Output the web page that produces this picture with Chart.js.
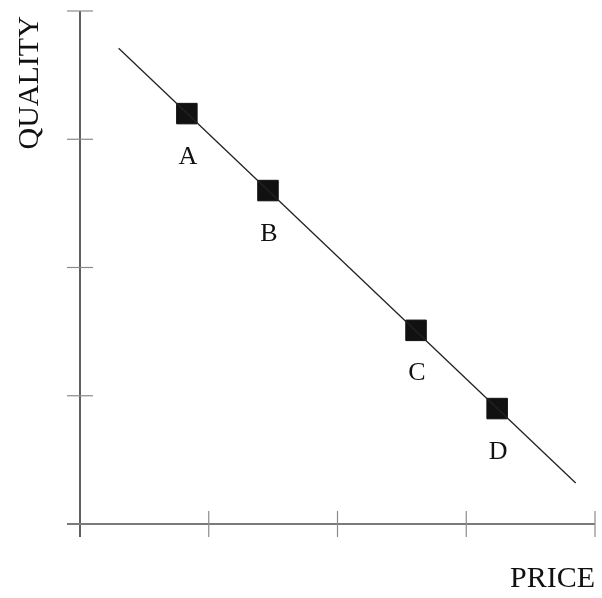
<!DOCTYPE html>
<html>
<head>
<meta charset="utf-8">
<script src="https://cdn.jsdelivr.net/npm/chart.js@4/dist/chart.umd.min.js"></script>
<style>
html,body{margin:0;padding:0;background:#fff;}
#wrap{width:602px;height:598px;position:relative;}
</style>
</head>
<body>
<div id="wrap"><canvas id="c" width="602" height="598"></canvas></div>
<script>
const pointLabels = ['A', 'B', 'C', 'D'];
const priceValues = [0.83, 1.46, 2.61, 3.24];
const qualityValues = [3.20, 2.60, 1.51, 0.90];
const lineX = [0.30, 3.85];
const lineY = [3.71, 0.32];
const xTicks = [0, 1, 2, 3, 4];
const yTicks = [0, 1, 2, 3, 4];
const xTitle = 'PRICE';
const yTitle = 'QUALITY';

const serif = '"Liberation Serif", "DejaVu Serif", serif';

const axesPlugin = {
  id: 'axesPlugin',
  afterDatasetsDraw(chart) {
    const ctx = chart.ctx;
    const xs = chart.scales.x, ys = chart.scales.y;
    const x0 = xs.getPixelForValue(0), y0 = ys.getPixelForValue(0);
    const tl = 13;
    ctx.save();
    // y axis
    ctx.strokeStyle = '#2a2a2a';
    ctx.lineWidth = 1.5;
    ctx.beginPath();
    ctx.moveTo(x0, ys.getPixelForValue(yTicks[yTicks.length - 1]));
    ctx.lineTo(x0, y0 + tl);
    ctx.stroke();
    // x axis
    ctx.strokeStyle = '#7a7a7a';
    ctx.lineWidth = 2;
    ctx.beginPath();
    ctx.moveTo(x0 - tl, y0);
    ctx.lineTo(xs.getPixelForValue(xTicks[xTicks.length - 1]), y0);
    ctx.stroke();
    // ticks
    ctx.strokeStyle = '#8a8a8a';
    ctx.lineWidth = 1.2;
    xTicks.forEach(v => {
      if (v === 0) return;
      const px = xs.getPixelForValue(v);
      ctx.beginPath(); ctx.moveTo(px, y0 - tl); ctx.lineTo(px, y0 + tl); ctx.stroke();
    });
    yTicks.forEach(v => {
      if (v === 0) return;
      const py = ys.getPixelForValue(v);
      ctx.beginPath(); ctx.moveTo(x0 - tl, py); ctx.lineTo(x0 + tl, py); ctx.stroke();
    });
    // point labels
    ctx.fillStyle = '#111';
    ctx.font = '26px ' + serif;
    ctx.textAlign = 'center';
    ctx.textBaseline = 'alphabetic';
    const meta = chart.getDatasetMeta(1);
    meta.data.forEach((pt, i) => {
      ctx.fillText(pointLabels[i], pt.x + 1, pt.y + 50);
    });
    // axis titles
    ctx.font = '30px ' + serif;
    ctx.textAlign = 'right';
    ctx.fillText(xTitle, xs.getPixelForValue(xTicks[xTicks.length - 1]), y0 + 63);
    ctx.save();
    ctx.translate(38, ys.getPixelForValue(3.44));
    ctx.rotate(-Math.PI / 2);
    ctx.textAlign = 'center';
    ctx.fillText(yTitle, 0, 0);
    ctx.restore();
    ctx.restore();
  }
};

new Chart(document.getElementById('c'), {
  type: 'scatter',
  data: {
    datasets: [
      {
        data: lineX.map((x, i) => ({ x: x, y: lineY[i] })),
        showLine: true,
        borderColor: '#222',
        borderWidth: 1.3,
        pointRadius: 0,
        clip: false
      },
      {
        data: priceValues.map((x, i) => ({ x: x, y: qualityValues[i] })),
        showLine: false,
        pointStyle: 'rect',
        pointRadius: 14.5,
        pointBackgroundColor: '#111',
        pointBorderColor: '#111',
        pointBorderWidth: 1,
        clip: false
      }
    ]
  },
  options: {
    responsive: false,
    animation: false,
    layout: { autoPadding: false, padding: { left: 80, top: 11, right: 7, bottom: 74 } },
    plugins: { legend: { display: false }, tooltip: { enabled: false } },
    scales: {
      x: { type: 'linear', min: 0, max: 4, display: false },
      y: { type: 'linear', min: 0, max: 4, display: false }
    }
  },
  plugins: [axesPlugin]
});
</script>
</body>
</html>
